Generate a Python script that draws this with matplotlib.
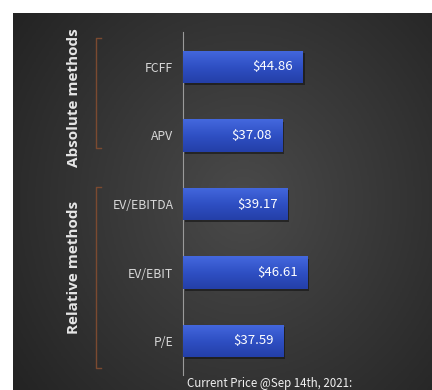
import numpy as np
import matplotlib
matplotlib.use("Agg")
import matplotlib.pyplot as plt
from matplotlib.colors import LinearSegmentedColormap

# Valuation results per method
methods = ["FCFF", "APV", "EV/EBITDA", "EV/EBIT", "P/E"]
values = [44.86, 37.08, 39.17, 46.61, 37.59]
value_labels = ["$44.86", "$37.08", "$39.17", "$46.61", "$37.59"]
groups = ["Absolute methods", "Relative methods"]
footer = "Current Price @Sep 14th, 2021:"

W, H = 432, 390
fig = plt.figure(figsize=(W / 100, H / 100), dpi=100, facecolor="white")

narrow = ["Noto Sans CJK SC", "DejaVu Sans"]

# Dark panel with a soft radial glow
bg = fig.add_axes([13 / W, 0, (W - 13) / W, (H - 13) / H])
bg.set_axis_off()
yy, xx = np.mgrid[0:1:200j, 0:1:220j]
r = np.sqrt(((xx - 0.55) / 0.75) ** 2 + ((yy - 0.5) / 0.9) ** 2)
shade = np.clip(1 - r, 0, 1)
bg_cmap = LinearSegmentedColormap.from_list("panel", ["#202020", "#4a4a4a"])
bg.imshow(shade, cmap=bg_cmap, aspect="auto", extent=[0, 1, 0, 1], vmin=0, vmax=1)
bg.set_xlim(0, 1)
bg.set_ylim(0, 1)

# Bar chart axes
ax_left, ax_top, ax_bottom = 183, 32, 375
ax = fig.add_axes([ax_left / W, (H - ax_bottom) / H, (W - ax_left) / W, (ax_bottom - ax_top) / H])
ax.patch.set_alpha(0)
ypos = np.arange(len(methods))
bar_h = 0.47
px_per_unit = 120 / 44.86
xlim = (0, (W - ax_left) / px_per_unit)
ylim = (4 + (375 - 341) / 68.5, -(67 - 32) / 68.5)

bar_cmap = LinearSegmentedColormap.from_list("bar", ["#4468de", "#2f50c4", "#243fa8"])
grad = np.linspace(0, 1, 64).reshape(-1, 1)

# drop shadows
ax.barh(ypos + 0.035, values, height=bar_h, left=0.6, color="#0e0e0e", alpha=0.55, zorder=1)
bars = ax.barh(ypos, values, height=bar_h, color="#2f4fc0", zorder=2)
for b in bars:
    x0, y0, w, h = b.get_x(), b.get_y(), b.get_width(), b.get_height()
    im = ax.imshow(grad, cmap=bar_cmap, aspect="auto", extent=[x0, x0 + w, y0 + h, y0],
                   zorder=3, interpolation="bicubic")
    im.set_clip_path(b)
ax.set_xlim(*xlim)
ax.set_ylim(*ylim)

for y, v, lab in zip(ypos, values, value_labels):
    ax.text(v - 10 / px_per_unit, y, lab, ha="right", va="center", color="white",
            fontsize=9.5, family=narrow, zorder=4)

ax.set_yticks(ypos)
ax.set_yticklabels(methods, family=narrow, fontsize=8.8, color="#d8d8d8")
ax.tick_params(axis="y", length=0, pad=7)
ax.set_xticks([])
for s in ["top", "right", "bottom"]:
    ax.spines[s].set_visible(False)
ax.spines["left"].set_color("#9a9a9a")
ax.spines["left"].set_linewidth(0.8)

# Group labels with brackets
def fx(px):
    return px / W

def fy(py):
    return 1 - py / H

bracket_col = "#7b4a30"
for label, (top, bot), (ttop, tbot) in zip(groups, [(38, 148), (187, 368)], [(30, 165), (203, 332)]):
    fig.text(fx(74), fy((ttop + tbot) / 2), label, rotation=90, ha="center", va="center",
             color="#e6e6e6", fontsize=11, fontweight="bold", family=["Open Sans", "DejaVu Sans"])
    fig.add_artist(plt.Line2D([fx(101), fx(96), fx(96), fx(101)],
                              [fy(top), fy(top), fy(bot), fy(bot)],
                              color=bracket_col, lw=1.0))

fig.text(fx(270), fy(390), footer, ha="center", va="bottom", color="#f0f0f0",
         fontsize=8.3, family=narrow)

fig.savefig("out.png", dpi=100, facecolor="white")
